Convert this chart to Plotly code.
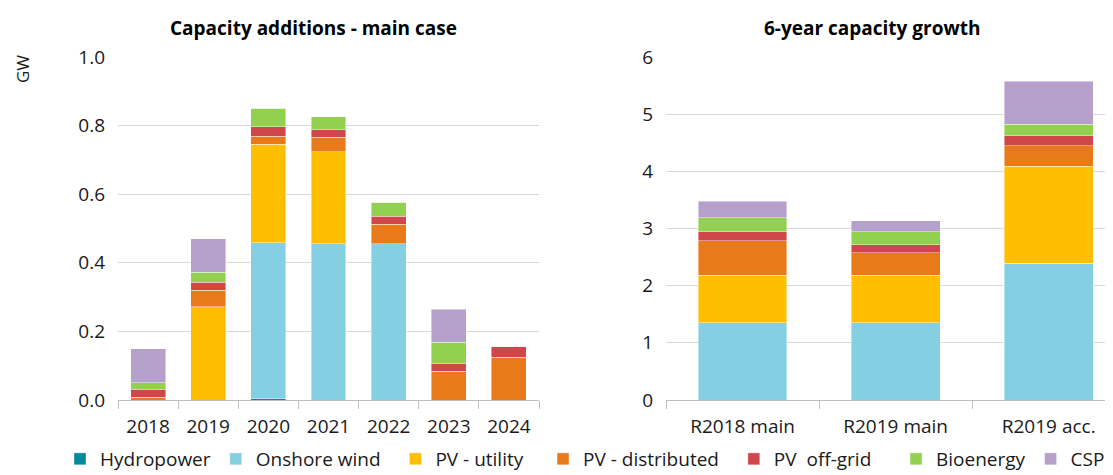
import plotly.graph_objects as go
from plotly.subplots import make_subplots

years = ['2018', '2019', '2020', '2021', '2022', '2023', '2024']
cases = ['R2018 main', 'R2019 main', 'R2019 acc.']

series = ['Hydropower', 'Onshore wind', 'PV - utility', 'PV - distributed',
          'PV\u00a0 off-grid', 'Bioenergy', 'CSP']
colors = ['#00899B', '#84CFE1', '#FFBE00', '#E97A1A', '#D1464A', '#92D050', '#B59FCB']

# annual additions, main case (GW)
hydro_add = [0, 0, 0.004, 0, 0, 0, 0]
wind_add = [0, 0, 0.454, 0.455, 0.455, 0, 0]
pv_util_add = [0, 0.272, 0.287, 0.269, 0, 0, 0]
pv_dist_add = [0.008, 0.048, 0.024, 0.042, 0.057, 0.084, 0.125]
pv_off_add = [0.023, 0.024, 0.028, 0.022, 0.023, 0.023, 0.031]
bio_add = [0.020, 0.029, 0.054, 0.038, 0.042, 0.061, 0]
csp_add = [0.099, 0.097, 0, 0, 0, 0.097, 0]

# 6-year growth (GW)
hydro_gr = [0, 0, 0]
wind_gr = [1.35, 1.35, 2.39]
pv_util_gr = [0.83, 0.83, 1.70]
pv_dist_gr = [0.61, 0.40, 0.36]
pv_off_gr = [0.15, 0.14, 0.17]
bio_gr = [0.25, 0.22, 0.20]
csp_gr = [0.29, 0.20, 0.76]

additions = [hydro_add, wind_add, pv_util_add, pv_dist_add, pv_off_add, bio_add, csp_add]
growth = [hydro_gr, wind_gr, pv_util_gr, pv_dist_gr, pv_off_gr, bio_gr, csp_gr]

# extra spacing after each legend label (Open Sans is narrower than the original font)
legend_pad = [0, 2, 3, 2, 4, 0, 0]

FONT = 'Open Sans'
# page body has an 8px margin, so the figure is a bit smaller than the window
OFF = 8
W, H = 1113 - OFF, 475 - OFF
ml, mr, mt = 118 - OFF, 0, 57 - OFF
mb = H - (400 - OFF)
pw = W - ml - mr
ph = H - mt - mb


def px_x(x):
    # window pixel -> paper x
    return (x - OFF - ml) / pw


def px_y(y):
    # window pixel -> paper y
    return (H - mb - (y - OFF)) / ph


fig = make_subplots(rows=1, cols=2)

for name, col, a, g, pad in zip(series, colors, additions, growth, legend_pad):
    label = name + '\u00a0' * pad
    fig.add_trace(go.Bar(x=years, y=a, name=label, marker_color=col,
                         marker_line=dict(color='rgba(255,255,255,0.6)', width=0.7),
                         legendgroup=name), row=1, col=1)
    fig.add_trace(go.Bar(x=cases, y=g, name=label, marker_color=col,
                         marker_line=dict(color='rgba(255,255,255,0.6)', width=0.7),
                         legendgroup=name, showlegend=False), row=1, col=2)

axis_x = dict(showline=True, linecolor='#BFBFBF', linewidth=1.3, ticks='outside',
              tickson='boundaries', ticklen=8, tickcolor='#BFBFBF', tickwidth=1.3,
              showgrid=False, ticklabelstandoff=9,
              tickfont=dict(size=19, color='#1a1a1a'))
axis_y = dict(showline=False, gridcolor='#D9D9D9', gridwidth=1.3, zeroline=False,
              ticks='', ticklabelstandoff=12, tickfont=dict(size=19, color='#1a1a1a'))

fig.update_xaxes(axis_x)
fig.update_yaxes(axis_y)
fig.update_layout(
    xaxis=dict(domain=[0, px_x(539)], range=[-0.5, 6.5]),
    xaxis2=dict(domain=[px_x(666), 1], range=[-0.5, 2.42]),
    yaxis=dict(range=[0, 1.0], dtick=0.2, tickformat='.1f'),
    yaxis2=dict(range=[0, 6], dtick=1),
)

fig.add_annotation(text='<b>Capacity additions - main case</b>', xref='paper', yref='paper',
                   x=px_x(313), xanchor='center', y=px_y(28), yanchor='middle',
                   showarrow=False, font=dict(size=19, color='black'))
fig.add_annotation(text='<b>6-year capacity growth</b>', xref='paper', yref='paper',
                   x=px_x(872), xanchor='center', y=px_y(28), yanchor='middle',
                   showarrow=False, font=dict(size=19, color='black'))
fig.add_annotation(text='GW', textangle=-90, xref='paper', yref='paper',
                   x=px_x(23), xanchor='center', y=px_y(69), yanchor='middle',
                   showarrow=False, font=dict(size=17, color='#1a1a1a'))

fig.update_layout(
    width=W, height=H, barmode='stack', bargap=0.42,
    margin=dict(l=ml, r=mr, t=mt, b=mb, autoexpand=False),
    paper_bgcolor='white', plot_bgcolor='white',
    font=dict(family=FONT, color='#1a1a1a'),
    legend=dict(orientation='h', x=px_x(60), xanchor='left', y=px_y(440), yanchor='top',
                font=dict(size=19), itemwidth=30, traceorder='normal', tracegroupgap=0),
)

fig.write_html('out.html')
